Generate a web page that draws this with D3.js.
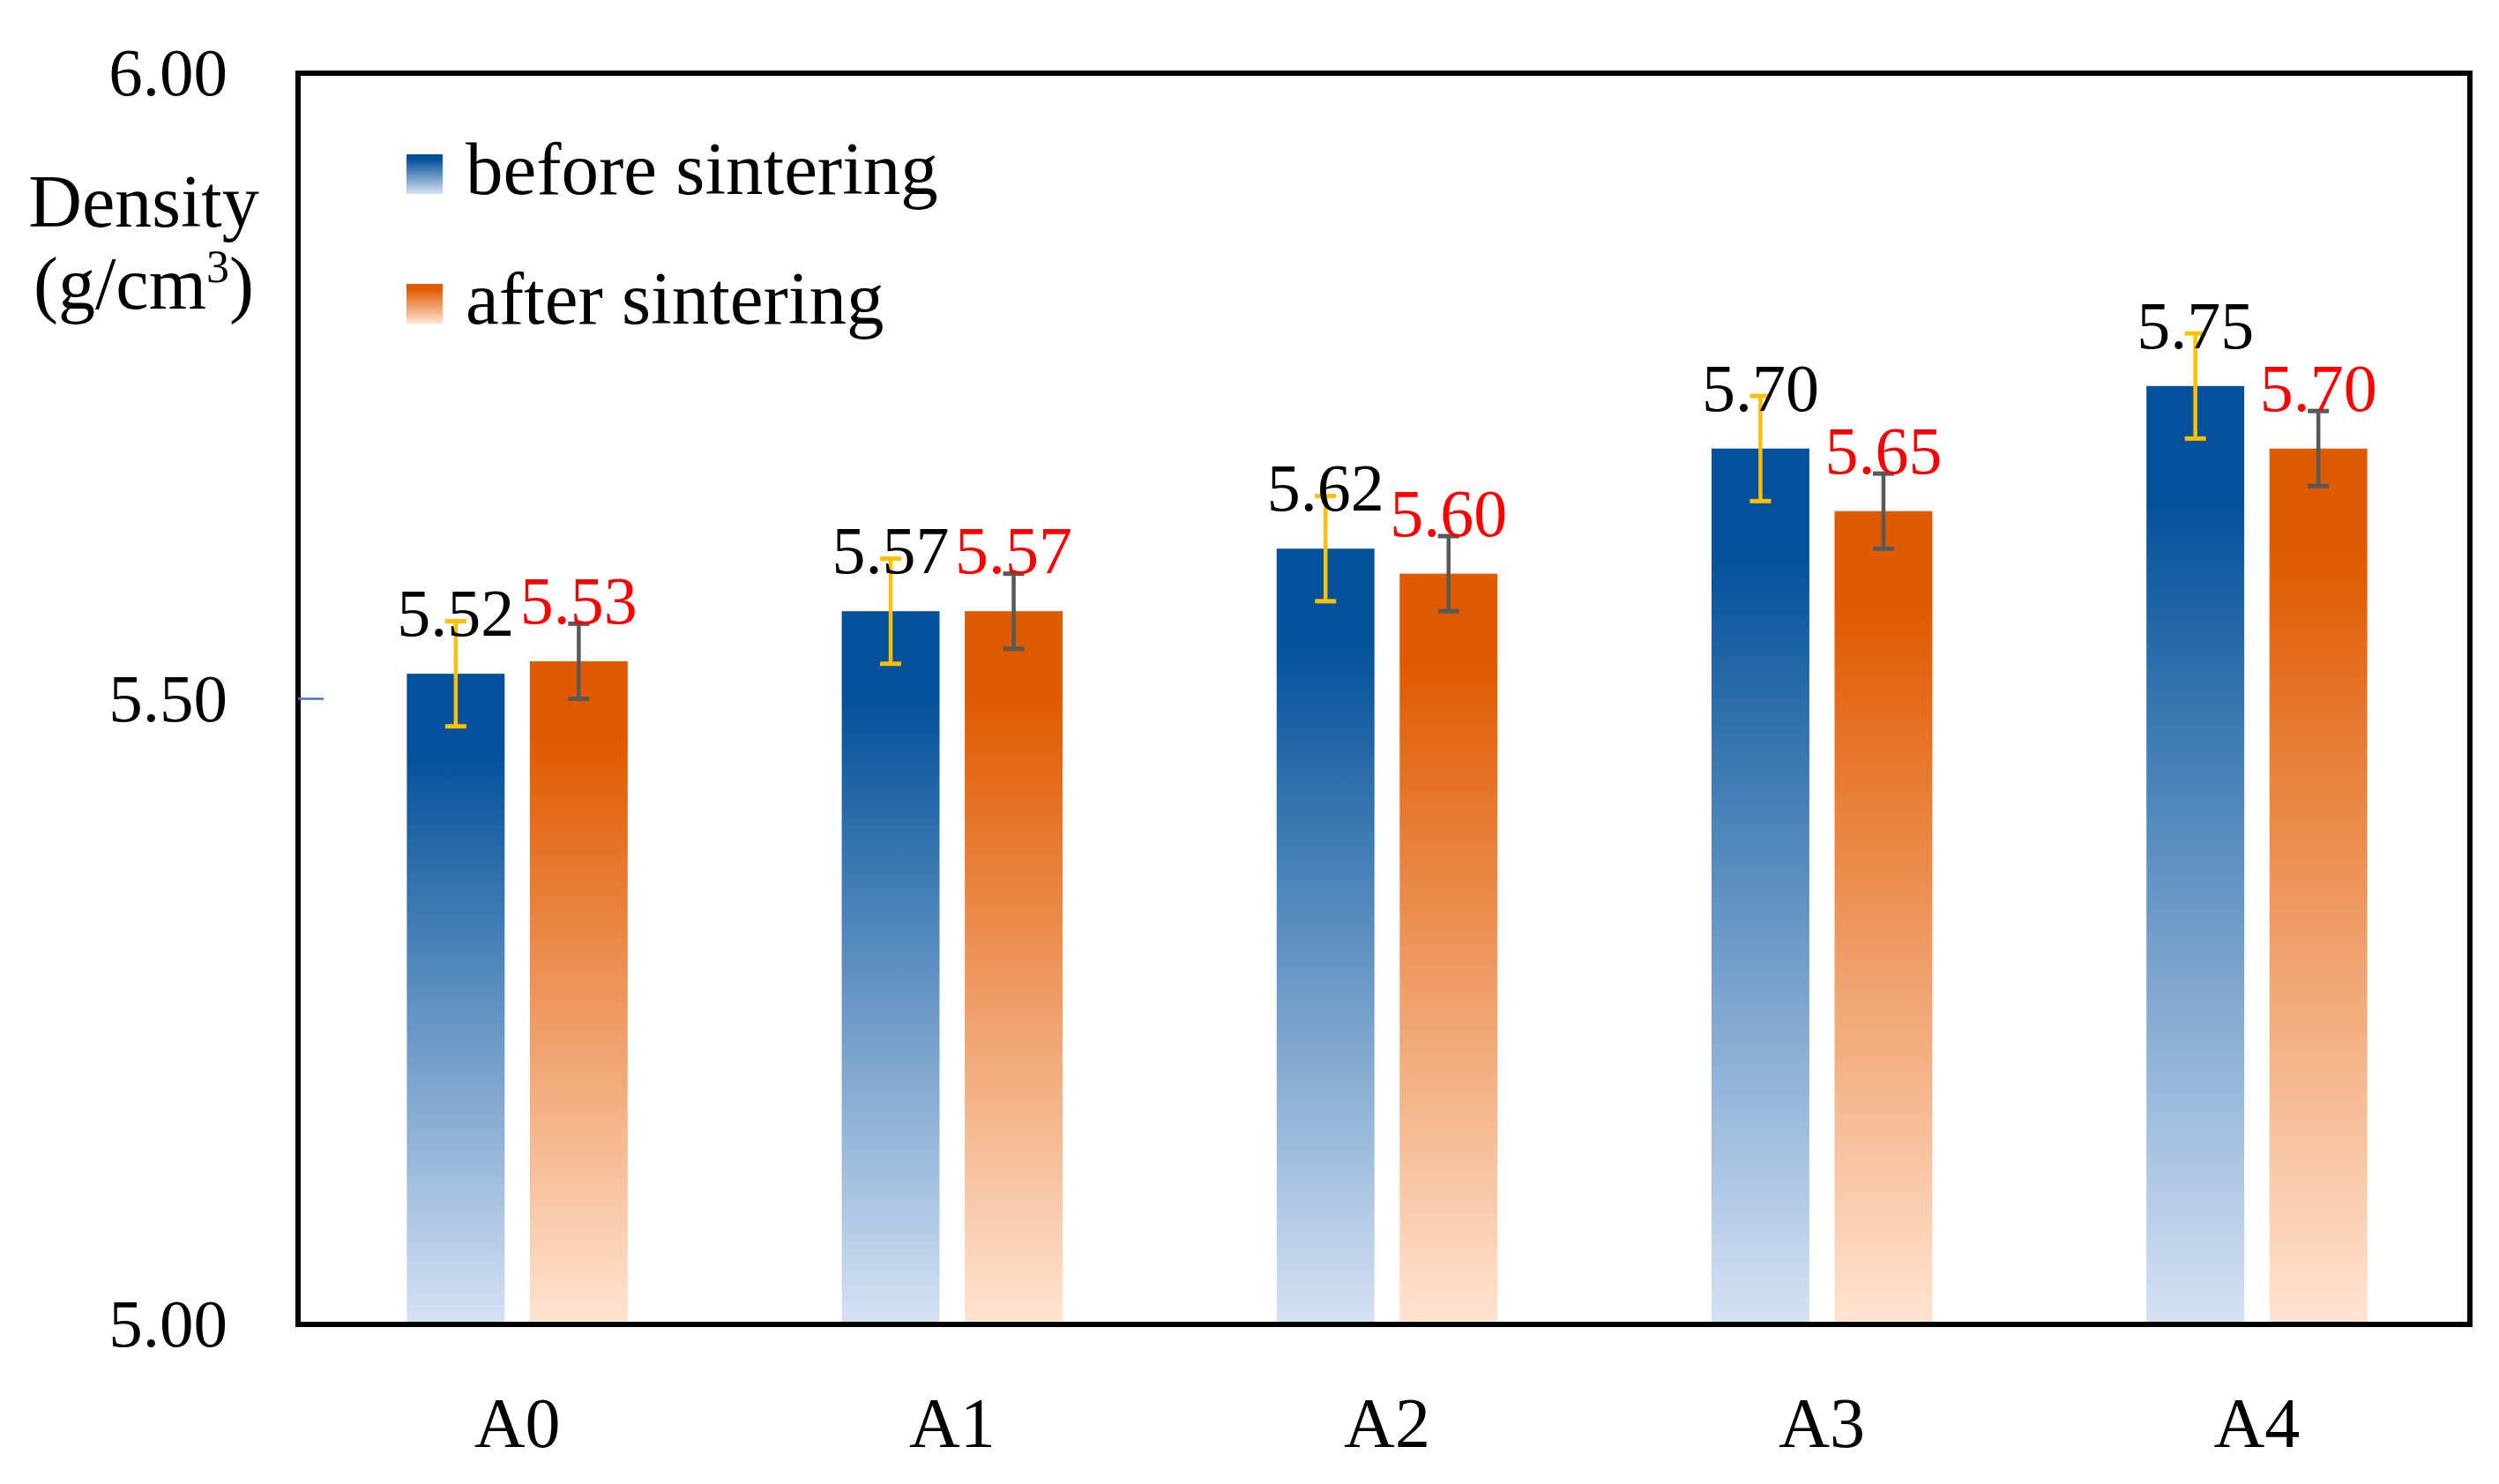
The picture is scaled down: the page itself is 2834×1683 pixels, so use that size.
<!DOCTYPE html>
<html>
<head>
<meta charset="utf-8">
<script src="https://cdn.jsdelivr.net/npm/d3@7"></script>
<style>
html,body{margin:0;padding:0;background:#fff;}
svg{display:block;}
text{font-family:"Liberation Serif","Times New Roman",serif;}
</style>
</head>
<body>
<script>
const categories = ["A0","A1","A2","A3","A4"];
const seriesNames = ["before sintering","after sintering"];
const beforeValues = [5.52,5.57,5.62,5.70,5.75];
const afterValues = [5.53,5.57,5.60,5.65,5.70];
const beforeErr = [0.042,0.042,0.042,0.042,0.042];
const afterErr = [0.03,0.03,0.03,0.03,0.03];
const yTicks = [5.00,5.50,6.00];

const W = 2834, H = 1683;
const m = {left:338, right:W-2801, top:83, bottom:H-1502};

const svg = d3.select("body").append("svg").attr("width",W).attr("height",H);
const defs = svg.append("defs");
function grad(id, dark, light){
  const g = defs.append("linearGradient").attr("id",id)
    .attr("x1",0).attr("y1",0).attr("x2",0).attr("y2",1);
  g.append("stop").attr("offset","0%").attr("stop-color",dark);
  g.append("stop").attr("offset","12%").attr("stop-color",dark);
  g.append("stop").attr("offset","100%").attr("stop-color",light);
}
grad("gBlue","#02519A","#D5E2F4");
grad("gOrange","#E05A00","#FFE4D2");

const x0 = d3.scaleBand().domain(categories).range([340, 2806]).padding(0);
const x1 = d3.scaleBand().domain(seriesNames).range([0, x0.bandwidth()])
  .paddingInner(0.205).paddingOuter(0.87);
const y = d3.scaleLinear().domain([5,6]).range([H-m.bottom, m.top]);

const data = [];
categories.forEach((c,i)=>{
  data.push({cat:c, s:seriesNames[0], v:beforeValues[i], e:beforeErr[i], fill:"url(#gBlue)", err:"#FFC000", lab:"#000000"});
  data.push({cat:c, s:seriesNames[1], v:afterValues[i], e:afterErr[i], fill:"url(#gOrange)", err:"#595959", lab:"#FF0000"});
});

// bars
svg.append("g").selectAll("rect").data(data).join("rect")
  .attr("x", d=>x0(d.cat)+x1(d.s))
  .attr("y", d=>y(d.v))
  .attr("width", x1.bandwidth())
  .attr("height", d=>y(5)-y(d.v))
  .attr("fill", d=>d.fill);

// error bars
const eg = svg.append("g");
data.forEach(d=>{
  const cx = x0(d.cat)+x1(d.s)+x1.bandwidth()/2;
  const cap = 12;
  eg.append("line").attr("x1",cx).attr("x2",cx).attr("y1",y(d.v+d.e)).attr("y2",y(d.v-d.e))
    .attr("stroke",d.err).attr("stroke-width",4.5);
  [d.v+d.e, d.v-d.e].forEach(t=>{
    eg.append("line").attr("x1",cx-cap).attr("x2",cx+cap).attr("y1",y(t)).attr("y2",y(t))
      .attr("stroke",d.err).attr("stroke-width",5);
  });
});

// value labels
svg.append("g").selectAll("text").data(data).join("text")
  .attr("x", d=>x0(d.cat)+x1(d.s)+x1.bandwidth()/2)
  .attr("y", d=>y(d.v)-43)
  .attr("text-anchor","middle")
  .attr("font-size",76)
  .attr("fill", d=>d.lab)
  .text(d=>d.v.toFixed(2));

// frame
svg.append("rect").attr("x",m.left).attr("y",m.top)
  .attr("width",W-m.left-m.right).attr("height",H-m.top-m.bottom)
  .attr("fill","none").attr("stroke","#000").attr("stroke-width",6);

// y axis labels
const yAxis = d3.axisLeft(y).tickValues(yTicks).tickFormat(d=>d.toFixed(2)).tickSize(0).tickPadding(80);
const ya = svg.append("g").attr("transform",`translate(${m.left},0)`).call(yAxis);
ya.select(".domain").remove();
ya.selectAll("text").attr("font-size",77).attr("fill","#000")
  .attr("font-family","Liberation Serif, serif");
// small tick at 5.50 inside
svg.append("line").attr("x1",m.left).attr("x2",m.left+29).attr("y1",y(5.5)).attr("y2",y(5.5))
  .attr("stroke","#4472C4").attr("stroke-width",2.5);

// x axis labels
const xAxis = d3.axisBottom(x0).tickSize(0).tickPadding(0);
const xa = svg.append("g").attr("transform",`translate(0,${H-m.bottom})`).call(xAxis);
xa.select(".domain").remove();
xa.selectAll("text").attr("font-size",80).attr("fill","#000").attr("dy",null)
  .attr("y",139).attr("font-family","Liberation Serif, serif");

// y title
const yt = svg.append("text").attr("text-anchor","middle").attr("font-size",84).attr("fill","#000");
yt.append("tspan").attr("x",163).attr("y",257).text("Density");
const t2 = svg.append("text").attr("text-anchor","middle").attr("font-size",84).attr("fill","#000")
  .attr("x",163).attr("y",350);
t2.append("tspan").text("(g/cm");
t2.append("tspan").attr("font-size",52).attr("dy",-30).text("3");
t2.append("tspan").attr("dy",30).text(")");

// legend
const leg = svg.append("g");
const legY = [220, 367];
seriesNames.forEach((s,i)=>{
  leg.append("rect").attr("x",461).attr("y",legY[i]-45).attr("width",41).attr("height",45)
    .attr("fill", i===0?"url(#gBlue)":"url(#gOrange)");
  leg.append("text").attr("x",528).attr("y",legY[i]).attr("font-size",85).attr("fill","#000").text(s);
});
</script>
</body>
</html>
